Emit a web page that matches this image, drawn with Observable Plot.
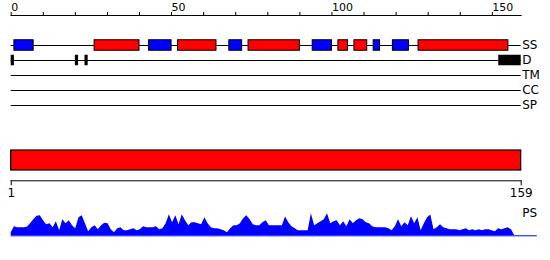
<!DOCTYPE html>
<html>
<head>
<meta charset="utf-8">
<script src="https://cdn.jsdelivr.net/npm/d3@7"></script>
<script src="https://cdn.jsdelivr.net/npm/@observablehq/plot@0.6"></script>
<style>
  html, body { margin: 0; padding: 0; background: #fff; }
  #chart { width: 550px; height: 260px; position: relative; }
  #chart svg { display: block; }
</style>
</head>
<body>
<div id="chart"></div>
<script>
// ---- data ----
const seqLength = 159;
const trackNames = ["SS", "D", "TM", "CC", "SP"];

// secondary structure segments (start, end, type)
const ssStart = [1, 26, 43, 52, 68, 74, 94, 102, 107, 113, 119, 127];
const ssEnd   = [7, 40, 50, 64, 72, 90, 100, 105, 111, 115, 124, 155];
const ssType  = ["E", "H", "E", "H", "E", "H", "E", "H", "H", "E", "E", "H"];

// disorder segments
const disStart = [0, 20, 23, 152];
const disEnd   = [1, 21, 24, 159];

// domain
const domainStart = [1];
const domainEnd = [159];
const domainTicks = [1, 159];
const topTicksMajor = [0, 50, 100, 150];
const topTicksMinor = d3.range(0, 160, 10);

// PS profile score per residue (1..)
const psScore = [
  3, 9, 8, 8, 8, 8.5, 12, 16, 19.5, 20,
  15, 11, 12, 8, 14, 5, 16, 12, 15, 10,
  7, 18, 20, 12, 4, 8, 10, 6, 10, 12.5,
  12, 6, 3, 7, 8, 5, 5, 6, 7, 5,
  6, 9, 8, 8, 8, 9, 6, 7, 12, 21,
  13, 20, 11, 21, 15, 10, 13, 13, 12, 11,
  18, 12, 8, 7, 7, 6, 5, 3, 7, 10,
  10, 12, 17, 20, 16, 11, 10, 10, 13, 15,
  10, 10, 10, 10, 10, 18.7, 13, 9, 7, 5,
  5, 5, 5, 22, 10, 12, 14, 16, 22, 12,
  14, 15, 10, 14, 9, 16, 12, 15, 17, 16,
  13, 12, 9, 8, 8, 8, 8, 7, 5, 9,
  16, 9, 13, 10, 19, 12, 18, 5, 12, 18,
  20.7, 6, 8, 11, 8, 7, 6, 6, 6, 5,
  6, 7, 5, 6, 5, 6, 5, 6, 6, 5,
  4, 7, 6, 7, 8, 6, 0, 0, 0, 0,
  0, 0, 0, 0
];

const ssColor = {E: "#0000ff", H: "#ff0000"};
const font = "DejaVu Sans, sans-serif";

// ---- tables ----
const tracks = trackNames.map((name, i) => ({name, i}));
const ss = ssStart.map((s, k) => ({start: s, end: ssEnd[k], type: ssType[k]}));
const dis = disStart.map((s, k) => ({start: s, end: disEnd[k]}));
const domains = domainStart.map((s, k) => ({start: s, end: domainEnd[k], label: "domain"}));
const ps = psScore.map((v, k) => ({pos: k + 1, v}));
const psMax = 23;

const chartEl = document.getElementById("chart");

// ---- top: position axis + feature tracks ----
const topPlot = Plot.plot({
  width: 550, height: 140,
  marginLeft: 10.7, marginRight: 29.3, marginTop: 15, marginBottom: 0,
  style: {fontFamily: font, fontSize: "11px", background: "#fff", color: "#000"},
  x: {domain: [0, seqLength]},
  y: {domain: [0, trackNames.length - 1], range: [45, 105], axis: null},
  marks: [
    Plot.frame({anchor: "top", stroke: "#000", strokeOpacity: 1}),
    Plot.axisX({anchor: "top", ticks: topTicksMinor, tickSize: 4, tickFormat: () => "", strokeOpacity: 1}),
    Plot.axisX({anchor: "top", ticks: topTicksMajor, tickSize: 0, tickPadding: 5, textAnchor: "start", fill: "#000", fontSize: "11px"}),
    Plot.ruleY(tracks, {y: "i", x1: 0, x2: seqLength, stroke: "#000", strokeWidth: 1}),
    Plot.rect(ss, {x1: "start", x2: "end", y1: () => -0.35, y2: () => 0.35, fill: d => ssColor[d.type], stroke: "#000", strokeWidth: 1}),
    Plot.rect(dis, {x1: "start", x2: "end", y1: () => 1 - 0.35, y2: () => 1 + 0.35, fill: "#000"}),
    Plot.text(tracks, {x: seqLength, y: "i", text: "name", textAnchor: "start", dx: 1, fill: "#000", fontSize: "12px"})
  ]
});
chartEl.appendChild(topPlot);

// ---- middle: domain bar + residue axis ----
const midPlot = Plot.plot({
  width: 550, height: 65,
  marginLeft: 10.7, marginRight: 29.3, marginTop: 0, marginBottom: 24.7,
  style: {fontFamily: font, fontSize: "12px", background: "#fff", color: "#000"},
  x: {domain: [domainTicks[0], domainTicks[1]]},
  y: {domain: ["domain"], range: [10, 30.7], padding: 0, axis: null},
  marks: [
    Plot.barX(domains, {x1: "start", x2: "end", y: "label", fill: "#ff0000", stroke: "#000", strokeWidth: 1.2}),
    Plot.frame({anchor: "bottom", stroke: "#000", strokeOpacity: 1}),
    Plot.axisX({anchor: "bottom", ticks: domainTicks, tickSize: 5, tickPadding: 3, strokeOpacity: 1, fill: "#000"})
  ]
});
chartEl.appendChild(midPlot);

// ---- bottom: PS profile ----
const psEnd = ps[ps.length - 1].pos;
const botPlot = Plot.plot({
  width: 550, height: 55,
  marginLeft: 10.7, marginRight: 550 - (10.7 + (psEnd - 1) * 510 / 158), marginTop: 7.3, marginBottom: 24.7,
  style: {fontFamily: font, fontSize: "12px", background: "#fff", color: "#000", overflow: "visible"},
  x: {domain: [1, psEnd], axis: null},
  y: {domain: [0, psMax], axis: null},
  marks: [
    Plot.areaY(ps, {x: "pos", y: "v", fill: "#0000ff"}),
    Plot.ruleY([0], {stroke: "#0000ff", strokeWidth: 1}),
    Plot.text(["PS"], {x: () => seqLength, y: () => psMax, text: d => d, textAnchor: "start", dx: 1, fill: "#000"})
  ]
});
chartEl.appendChild(botPlot);
</script>
</body>
</html>
